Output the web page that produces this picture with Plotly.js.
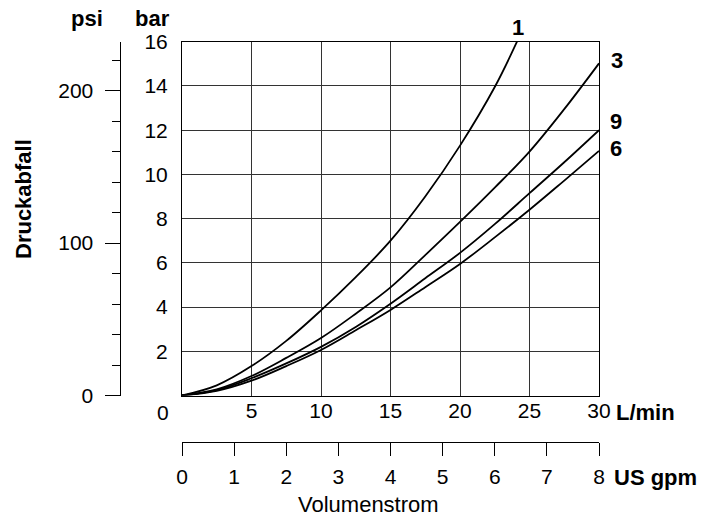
<!DOCTYPE html>
<html>
<head>
<meta charset="utf-8">
<script src="https://cdn.plot.ly/plotly-3.0.1.min.js"></script>
<style>
  html, body { margin: 0; padding: 0; background: #fff; }
  #chart { width: 725px; height: 516px; }
</style>
</head>
<body>
<div id="chart"></div>
<script>
// ---- data ----
const flowLmin = [0, 2.5, 5, 7.5, 10, 12.5, 15, 17.5, 20, 22.5, 25, 27.5, 30];
const flowCurve1 = [0, 2.5, 5, 7.5, 10, 12.5, 15, 17.5, 20, 22.5, 24.1];
const curve1Bar = [0, 0.46, 1.33, 2.47, 3.85, 5.35, 7.0, 9.0, 11.3, 13.95, 16.0];
const curve3Bar = [0, 0.28, 0.88, 1.7, 2.6, 3.7, 4.89, 6.35, 7.85, 9.4, 11.03, 12.95, 15.02];
const curve9Bar = [0, 0.24, 0.78, 1.45, 2.2, 3.1, 4.15, 5.3, 6.45, 7.75, 9.15, 10.55, 12.0];
const curve6Bar = [0, 0.21, 0.67, 1.33, 2.06, 2.95, 3.87, 4.9, 5.95, 7.15, 8.4, 9.72, 11.06];
const curveNames = ["1", "3", "9", "6"];

const lminTicks = [5, 10, 15, 20, 25, 30];
const barTicks = [2, 4, 6, 8, 10, 12, 14, 16];
const psiTicks = [0, 100, 200];
const gpmTicks = [0, 1, 2, 3, 4, 5, 6, 7, 8];
const barMax = 16;
const psiPerBar = 14.5038;
const lminMax = 30;
const gpmMax = 8;

// ---- geometry (pixel layout of the 725x516 canvas) ----
const W = 725, H = 516;
const plotL = 182, plotR = 599, plotT = 41.7, plotB = 395.5;
const psiAxisX = 119.5, gpmAxisY = 442;

const FONT = "Liberation Sans, Arial, Helvetica, sans-serif";
const lineStyle = { color: "#000", width: 1.8, shape: "spline", smoothing: 1 };

const traces = [
  { x: flowCurve1, y: curve1Bar, name: curveNames[0] },
  { x: flowLmin, y: curve3Bar, name: curveNames[1] },
  { x: flowLmin, y: curve9Bar, name: curveNames[2] },
  { x: flowLmin, y: curve6Bar, name: curveNames[3] }
].map(t => Object.assign(t, { type: "scatter", mode: "lines", line: lineStyle, hoverinfo: "skip", xaxis: "x", yaxis: "y" }));

// invisible anchor trace so that the secondary scales (US gpm, psi) are drawn
traces.push({
  type: "scatter", mode: "markers", x: [0, gpmMax], y: [0, barMax * psiPerBar],
  xaxis: "x2", yaxis: "y2", marker: { opacity: 0, size: 1 }, hoverinfo: "skip", showlegend: false
});

const lastOf = a => a[a.length - 1];
const labelShift = [[1, 14], [18, 3], [17, 9], [17, 2]];
const curveEnds = [
  [lastOf(flowCurve1), lastOf(curve1Bar)],
  [lastOf(flowLmin), lastOf(curve3Bar)],
  [lastOf(flowLmin), lastOf(curve9Bar)],
  [lastOf(flowLmin), lastOf(curve6Bar)]
];

const boldFont = { family: FONT, size: 22, color: "#000", weight: "bold" };
const regFont = { family: FONT, size: 22, color: "#000" };
const tickFont = { family: FONT, size: 21, color: "#000" };

const annotations = curveNames.map((n, i) => ({
  text: "<b>" + n + "</b>", x: curveEnds[i][0], y: curveEnds[i][1], xref: "x", yref: "y",
  xshift: labelShift[i][0], yshift: labelShift[i][1], showarrow: false,
  font: boldFont, xanchor: "center", yanchor: "middle"
}));

const px = v => v / W, py = v => 1 - v / H;
annotations.push(
  { text: "<b>psi</b>", x: px(87), y: py(19), xref: "paper", yref: "paper", showarrow: false, font: boldFont, xanchor: "center", yanchor: "middle" },
  { text: "<b>bar</b>", x: px(152), y: py(19), xref: "paper", yref: "paper", showarrow: false, font: boldFont, xanchor: "center", yanchor: "middle" },
  { text: "<b>Druckabfall</b>", x: px(23), y: py(199), xref: "paper", yref: "paper", showarrow: false, font: boldFont, textangle: -90, xanchor: "center", yanchor: "middle" },
  { text: "0", x: px(163), y: py(412), xref: "paper", yref: "paper", showarrow: false, font: tickFont, xanchor: "center", yanchor: "middle" },
  { text: "<b>L/min</b>", x: px(614), y: py(412), xref: "paper", yref: "paper", showarrow: false, font: boldFont, xanchor: "left", yanchor: "middle" },
  { text: "<b>US gpm</b>", x: px(612), y: py(477), xref: "paper", yref: "paper", showarrow: false, font: boldFont, xanchor: "left", yanchor: "middle" },
  { text: "Volumenstrom", x: px(368), y: py(504), xref: "paper", yref: "paper", showarrow: false, font: regFont, xanchor: "center", yanchor: "middle" }
);

const gridColor = "#333";
const layout = {
  width: W, height: H,
  margin: { l: 0, r: 0, t: 0, b: 0, pad: 0 },
  paper_bgcolor: "#fff", plot_bgcolor: "#fff",
  showlegend: false,
  font: { family: FONT, size: 21, color: "#000" },
  xaxis: {
    domain: [px(plotL), px(plotR)], range: [0, lminMax], fixedrange: true,
    tickvals: lminTicks, ticktext: lminTicks.map(String),
    showgrid: true, gridcolor: gridColor, gridwidth: 1,
    showline: true, linecolor: "#000", linewidth: 1, mirror: true,
    ticks: "", ticklabelstandoff: -4,
    zeroline: false, automargin: false, tickfont: tickFont
  },
  yaxis: {
    domain: [py(plotB), py(plotT)], range: [0, barMax], fixedrange: true,
    tickvals: barTicks, ticktext: barTicks.map(String),
    showgrid: true, gridcolor: gridColor, gridwidth: 1,
    showline: true, linecolor: "#000", linewidth: 1, mirror: true,
    ticks: "outside", ticklen: 9, tickcolor: "rgba(0,0,0,0)",
    zeroline: false, automargin: false, tickfont: tickFont
  },
  yaxis2: {
    overlaying: "y", anchor: "free", position: px(psiAxisX), side: "left",
    range: [0, barMax * psiPerBar], fixedrange: true,
    tickvals: psiTicks, ticktext: psiTicks.map(String),
    ticks: "outside", ticklen: 15, tickcolor: "#000", tickwidth: 1,
    ticklabelstandoff: 7,
    minor: { dtick: 20, tick0: 0, ticks: "outside", ticklen: 8, tickcolor: "#000", tickwidth: 1, showgrid: false },
    showgrid: false, zeroline: false, showline: true, linecolor: "#000", linewidth: 1,
    automargin: false, tickfont: tickFont
  },
  xaxis2: {
    overlaying: "x", anchor: "free", position: py(gpmAxisY), side: "bottom",
    range: [0, gpmMax], fixedrange: true,
    tickvals: gpmTicks, ticktext: gpmTicks.map(String),
    ticks: "outside", ticklen: 13, tickcolor: "#000", tickwidth: 1,
    ticklabelstandoff: 3,
    showgrid: false, zeroline: false, showline: true, linecolor: "#000", linewidth: 1,
    automargin: false, tickfont: tickFont
  },
  annotations: annotations
};

Plotly.newPlot("chart", traces, layout, { staticPlot: true, displayModeBar: false });
</script>
</body>
</html>
